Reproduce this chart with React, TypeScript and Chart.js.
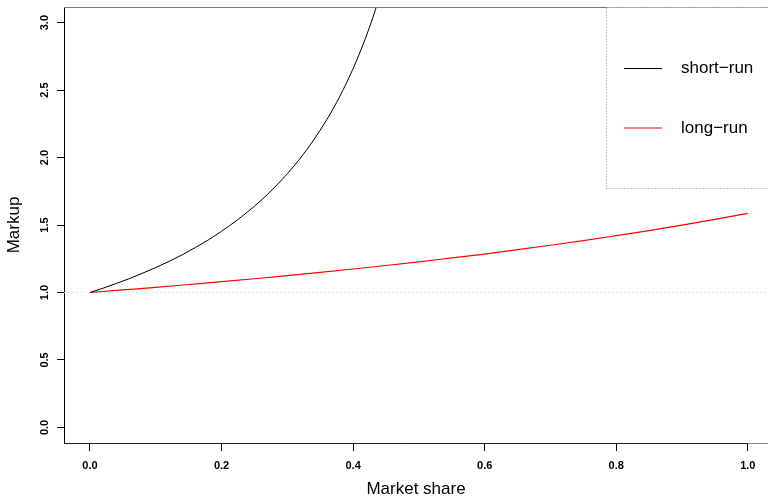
import { useEffect, useRef } from 'react';
import { Chart, registerables } from 'chart.js';

Chart.register(...registerables);

// Market share values (x) and markups
const shareShort = [0, 0.02, 0.04, 0.06, 0.08, 0.1, 0.12, 0.14, 0.16, 0.18, 0.2, 0.22, 0.24, 0.26, 0.28, 0.3, 0.32, 0.34, 0.36, 0.37, 0.38, 0.39, 0.4, 0.41, 0.42, 0.43, 0.44];
const markupShort = [1.0, 1.032, 1.067, 1.103, 1.143, 1.185, 1.23, 1.279, 1.333, 1.39, 1.454, 1.523, 1.599, 1.682, 1.776, 1.88, 1.997, 2.13, 2.281, 2.365, 2.456, 2.554, 2.66, 2.775, 2.9, 3.038, 3.189];

const shareLong = [0, 0.05, 0.1, 0.15, 0.2, 0.25, 0.3, 0.35, 0.4, 0.45, 0.5, 0.55, 0.6, 0.65, 0.7, 0.75, 0.8, 0.85, 0.9, 0.95, 1.0];
const markupLong = [1.0, 1.019, 1.038, 1.059, 1.08, 1.102, 1.125, 1.149, 1.174, 1.2, 1.227, 1.256, 1.285, 1.317, 1.35, 1.384, 1.421, 1.459, 1.499, 1.542, 1.587];

const seriesLabels = ['short\u2212run', 'long\u2212run'];
const seriesColors = ['#000000', '#ff0000'];
const xTicks = [0, 0.2, 0.4, 0.6, 0.8, 1.0];
const yTicks = [0, 0.5, 1.0, 1.5, 2.0, 2.5, 3.0];
const referenceMarkup = 1;
const xTitle = 'Market share';
const yTitle = 'Markup';

const FONT = '"Liberation Sans", Arial, Helvetica, sans-serif';

const decor = {
  id: 'decor',
  beforeDatasetsDraw(chart: any) {
    const { ctx, chartArea: a, scales } = chart;
    const py = Math.round(scales.y.getPixelForValue(referenceMarkup)) + 0.5;
    ctx.save();
    ctx.strokeStyle = '#d4d4d4';
    ctx.lineWidth = 1;
    ctx.setLineDash([1, 3]);
    ctx.beginPath();
    ctx.moveTo(a.left, py);
    ctx.lineTo(a.right, py);
    ctx.stroke();
    ctx.restore();
  },
  afterDraw(chart: any) {
    const { ctx, chartArea: a, scales } = chart;
    ctx.save();
    // frame: top (gray) and bottom line
    ctx.lineWidth = 1;
    ctx.strokeStyle = '#777777';
    ctx.beginPath();
    ctx.moveTo(a.left, Math.round(a.top) + 0.5);
    ctx.lineTo(a.right, Math.round(a.top) + 0.5);
    ctx.stroke();
    const by = Math.round(a.bottom) + 0.5;
    const xEnd = scales.x.getPixelForValue(xTicks[xTicks.length - 1]);
    ctx.strokeStyle = '#222222';
    ctx.beginPath();
    ctx.moveTo(a.left, by);
    ctx.lineTo(xEnd, by);
    ctx.stroke();
    ctx.strokeStyle = '#888888';
    ctx.beginPath();
    ctx.moveTo(xEnd, by);
    ctx.lineTo(a.right, by);
    ctx.stroke();

    // y tick labels (rotated, R style)
    ctx.fillStyle = '#000';
    ctx.font = `bold 11px ${FONT}`;
    ctx.textAlign = 'center';
    ctx.textBaseline = 'alphabetic';
    for (const t of yTicks) {
      const py = scales.y.getPixelForValue(t);
      ctx.save();
      ctx.translate(47.5, py);
      ctx.rotate(-Math.PI / 2);
      ctx.fillText(t.toFixed(1), 0, 0);
      ctx.restore();
    }

    // legend box
    const lx = 606.5, ly = Math.round(a.top) + 0.5, lb = 188.5;
    ctx.fillStyle = '#ffffff';
    ctx.fillRect(lx, ly, 200, lb - ly);
    ctx.strokeStyle = '#888888';
    ctx.setLineDash([1, 2]);
    ctx.beginPath();
    ctx.moveTo(lx + 200, ly);
    ctx.lineTo(lx, ly);
    ctx.lineTo(lx, lb);
    ctx.lineTo(lx + 200, lb);
    ctx.stroke();
    ctx.setLineDash([]);
    const rows = [68.5, 128];
    chart.data.datasets.forEach((ds: any, i: number) => {
      const ry = rows[i];
      ctx.strokeStyle = ds.borderColor;
      ctx.lineWidth = ds.borderWidth;
      ctx.beginPath();
      ctx.moveTo(624, ry);
      ctx.lineTo(662, ry);
      ctx.stroke();
      ctx.fillStyle = '#000';
      ctx.font = `17px ${FONT}`;
      ctx.textAlign = 'left';
      ctx.textBaseline = 'middle';
      ctx.fillText(ds.label, 681, ry);
    });
    ctx.restore();
  },
};

export default function App() {
  const ref = useRef<HTMLCanvasElement | null>(null);
  useEffect(() => {
    if (!ref.current) return;
    const chart = new Chart(ref.current, {
      type: 'line',
      data: {
        datasets: [
          {
            label: seriesLabels[0],
            data: shareShort.map((x, i) => ({ x, y: markupShort[i] })),
            borderColor: seriesColors[0],
            borderWidth: 1,
            pointRadius: 0,
            cubicInterpolationMode: 'monotone',
          },
          {
            label: seriesLabels[1],
            data: shareLong.map((x, i) => ({ x, y: markupLong[i] })),
            borderColor: seriesColors[1],
            borderWidth: 1.2,
            pointRadius: 0,
            cubicInterpolationMode: 'monotone',
          },
        ],
      },
      options: {
        responsive: false,
        animation: false,
        devicePixelRatio: 1,
        layout: { padding: { top: 7, left: 0, right: 0, bottom: 0 } },
        plugins: { legend: { display: false }, tooltip: { enabled: false } },
        scales: {
          x: {
            type: 'linear',
            min: -0.0395,
            max: 1.0307,
            afterBuildTicks: (s: any) => {
              s.ticks = xTicks.map((v) => ({ value: v }));
            },
            afterFit: (s: any) => {
              s.height = 56;
            },
            grid: { drawOnChartArea: false, tickLength: 8, color: '#000', lineWidth: 1 },
            border: { display: false },
            ticks: {
              autoSkip: false,
              maxRotation: 0,
              minRotation: 0,
              padding: 8,
              color: '#000',
              font: { family: FONT, size: 11, weight: 'bold' },
              callback: (v: any) => Number(v).toFixed(1),
            },
            title: {
              display: true,
              text: xTitle,
              color: '#000',
              font: { family: FONT, size: 17, lineHeight: 1 },
              padding: { top: 0, bottom: 1 },
            },
          },
          y: {
            type: 'linear',
            min: -0.1156,
            max: 3.116,
            afterBuildTicks: (s: any) => {
              s.ticks = yTicks.map((v) => ({ value: v }));
            },
            afterFit: (s: any) => {
              s.width = 64;
            },
            grid: { drawOnChartArea: false, tickLength: 7, color: '#000', lineWidth: 1 },
            border: { display: true, color: '#000', width: 1 },
            ticks: { display: false },
            title: {
              display: true,
              text: yTitle,
              color: '#000',
              font: { family: FONT, size: 17, lineHeight: 1 },
              padding: { top: 6, bottom: 0 },
            },
          },
        },
      },
      plugins: [decor],
    } as any);
    return () => chart.destroy();
  }, []);
  return (
    <div style={{ position: 'absolute', left: 0, top: 0, width: 768, height: 499, background: '#fff' }}>
      <canvas ref={ref} width={768} height={499} style={{ display: 'block', width: 768, height: 499 }} />
    </div>
  );
}
